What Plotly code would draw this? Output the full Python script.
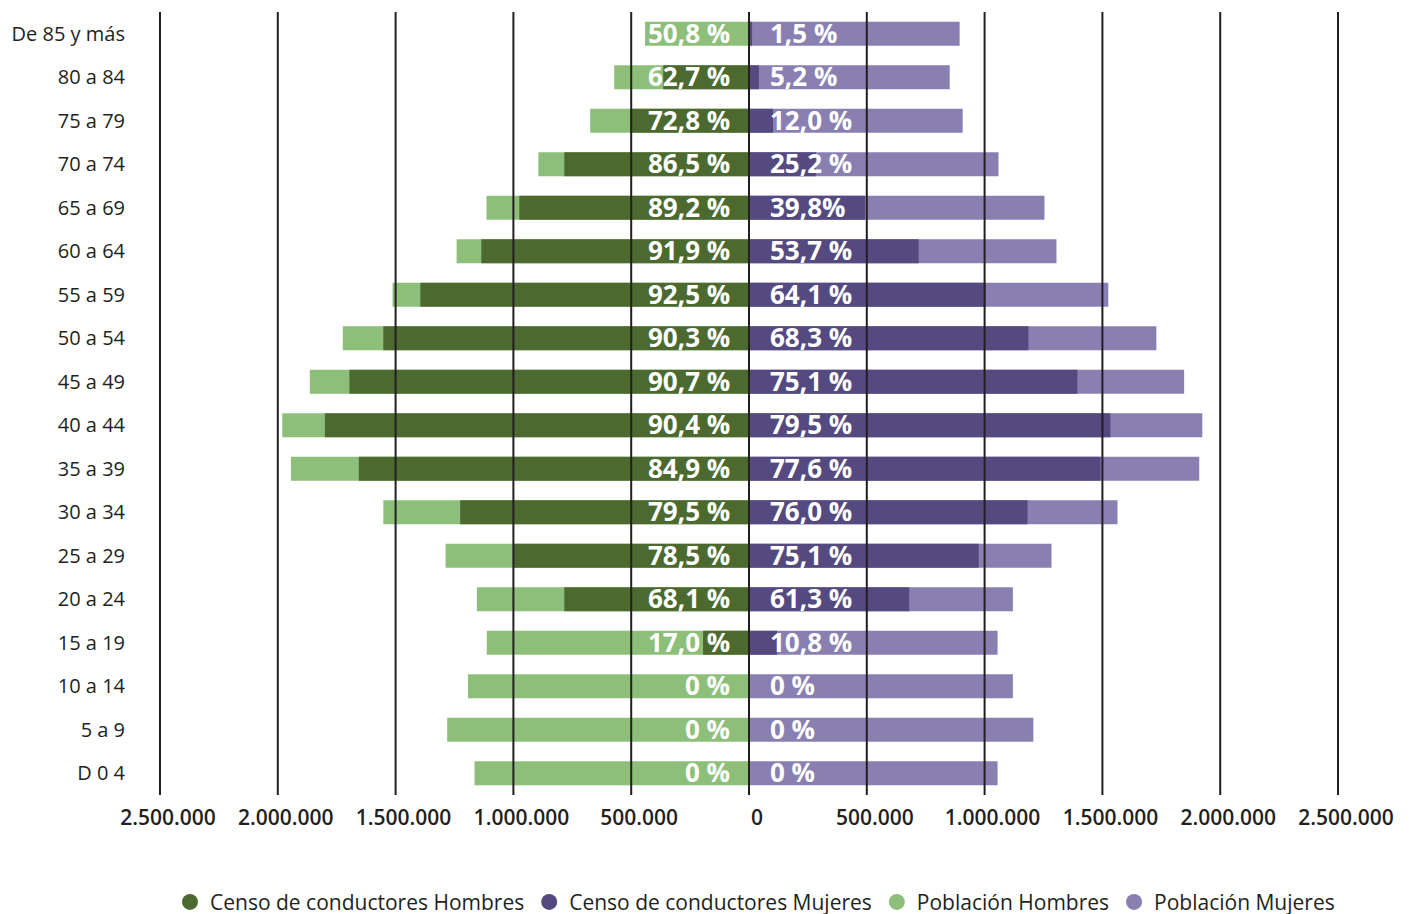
import plotly.graph_objects as go

categorias = ["De 85 y más", "80 a 84", "75 a 79", "70 a 74", "65 a 69", "60 a 64",
              "55 a 59", "50 a 54", "45 a 49", "40 a 44", "35 a 39", "30 a 34",
              "25 a 29", "20 a 24", "15 a 19", "10 a 14", "5 a 9", "D 0 4"]

poblacion_hombres = [441000, 572000, 674000, 894000, 1114000, 1241000, 1513000, 1724000, 1864000,
                     1981000, 1944000, 1552000, 1288000, 1155000, 1113000, 1193000, 1281000, 1165000]
censo_hombres = [0, 364000, 504000, 784000, 975000, 1136000, 1395000, 1552000, 1696000,
                 1800000, 1656000, 1226000, 1000000, 784000, 195000, 0, 0, 0]
censo_mujeres = [13000, 42000, 102000, 284000, 492000, 720000, 1005000, 1186000, 1394000,
                 1534000, 1492000, 1182000, 975000, 680000, 119000, 0, 0, 0]
poblacion_mujeres = [894000, 852000, 907000, 1059000, 1254000, 1305000, 1525000, 1729000, 1847000,
                     1924000, 1911000, 1564000, 1284000, 1120000, 1055000, 1120000, 1207000, 1055000]

pct_hombres = ["50,8 %", "62,7 %", "72,8 %", "86,5 %", "89,2 %", "91,9 %", "92,5 %", "90,3 %", "90,7 %",
               "90,4 %", "84,9 %", "79,5 %", "78,5 %", "68,1 %", "17,0 %", "0 %", "0 %", "0 %"]
pct_mujeres = ["1,5 %", "5,2 %", "12,0 %", "25,2 %", "39,8%", "53,7 %", "64,1 %", "68,3 %", "75,1 %",
               "79,5 %", "77,6 %", "76,0 %", "75,1 %", "61,3 %", "10,8 %", "0 %", "0 %", "0 %"]

tick_vals = [-2500000, -2000000, -1500000, -1000000, -500000, 0, 500000, 1000000, 1500000, 2000000, 2500000]
tick_text = ["2.500.000", "2.000.000", "1.500.000", "1.000.000", "500.000", "0",
             "500.000", "1.000.000", "1.500.000", "2.000.000", "2.500.000"]

C_CH = "#4c6a30"
C_CM = "#554a7f"
C_PH = "#8dbf7a"
C_PM = "#8a7fb1"
FONT = "Open Sans"
TXT = "#231f20"

fig = go.Figure()
bw = 0.55
fig.add_trace(go.Bar(y=categorias, x=[-v for v in poblacion_hombres], orientation="h",
                     marker=dict(color=C_PH, line=dict(width=0)), width=bw, showlegend=False,
                     name="Población Hombres"))
fig.add_trace(go.Bar(y=categorias, x=poblacion_mujeres, orientation="h",
                     marker=dict(color=C_PM, line=dict(width=0)), width=bw, showlegend=False,
                     name="Población Mujeres"))
fig.add_trace(go.Bar(y=categorias, x=[-v for v in censo_hombres], orientation="h",
                     marker=dict(color=C_CH, line=dict(width=0)), width=bw, showlegend=False,
                     name="Censo de conductores Hombres"))
fig.add_trace(go.Bar(y=categorias, x=censo_mujeres, orientation="h",
                     marker=dict(color=C_CM, line=dict(width=0)), width=bw, showlegend=False,
                     name="Censo de conductores Mujeres"))

# legend entries with circle symbols
for name, col in [("Censo de conductores Hombres", C_CH), ("Censo de conductores Mujeres", C_CM),
                  ("Población Hombres", C_PH), ("Población Mujeres", C_PM)]:
    fig.add_trace(go.Scatter(x=[None], y=[None], mode="markers", name=name,
                             marker=dict(symbol="circle", size=16, color=col)))

# gridlines above the bars
for v in tick_vals:
    fig.add_shape(type="line", xref="x", yref="paper", x0=v, x1=v, y0=0, y1=1,
                  line=dict(color="#231f20", width=2), layer="above")

annotations = []
for cat, ph, pm in zip(categorias, pct_hombres, pct_mujeres):
    annotations.append(dict(x=0, y=cat, xref="x", yref="y", text=ph, showarrow=False,
                            xanchor="right", xshift=-17, yshift=1,
                            font=dict(family=FONT, size=26, color="white", weight="bold")))
    annotations.append(dict(x=0, y=cat, xref="x", yref="y", text=pm, showarrow=False,
                            xanchor="left", xshift=19, yshift=1,
                            font=dict(family=FONT, size=26, color="white", weight="bold")))

fig.update_layout(
    width=1412, height=914,
    margin=dict(l=142, r=72, t=4, b=127, autoexpand=False),
    paper_bgcolor="white", plot_bgcolor="white",
    barmode="overlay", bargap=0.45,
    annotations=annotations,
    font=dict(family=FONT, color=TXT),
    legend=dict(orientation="h", x=0.505, xanchor="center", xref="paper", y=-0.137, yanchor="middle",
                font=dict(family=FONT, size=21, color=TXT), itemwidth=30, traceorder="normal"),
    xaxis=dict(range=[-2542400, 2542400], tickvals=tick_vals, ticktext=tick_text, showgrid=False,
               zeroline=False, showline=False, ticks="", ticklabelstandoff=8, ticklabelshift=8,
               automargin=False, tickfont=dict(family=FONT, size=21, color=TXT, weight=600)),
    yaxis=dict(autorange="reversed", showgrid=False, zeroline=False, showline=False, ticks="",
               ticklabelstandoff=24, automargin=False, tickfont=dict(family=FONT, size=20, color=TXT)),
)

fig.write_html("out.html")
